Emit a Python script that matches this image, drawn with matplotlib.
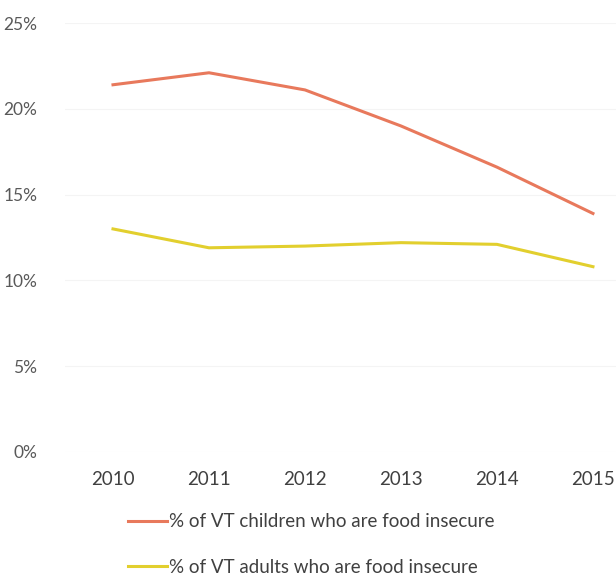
import matplotlib
matplotlib.use("Agg")
import matplotlib.pyplot as plt
from matplotlib.ticker import FuncFormatter

# data
years = ["2010", "2011", "2012", "2013", "2014", "2015"]
children = [0.214, 0.221, 0.211, 0.190, 0.166, 0.139]
adults = [0.130, 0.119, 0.120, 0.122, 0.121, 0.108]
labels = ["% of VT children who are food insecure",
          "% of VT adults who are food insecure"]

plt.rcParams['font.family'] = ['Lato', 'DejaVu Sans']

fig = plt.figure(figsize=(6.16, 5.75), dpi=100)
ax = fig.add_axes([65 / 616, 123 / 575, 551 / 616, 429 / 575])

x = range(len(years))
ax.plot(x, children, color="#E8795C", lw=2.2, label=labels[0])
ax.plot(x, adults, color="#E2CF2E", lw=2.2, label=labels[1])

ax.set_xlim(-0.5, 5.24)
ax.set_ylim(0, 0.25)
ax.set_yticks([0, 0.05, 0.10, 0.15, 0.20, 0.25])
ax.yaxis.set_major_formatter(FuncFormatter(lambda v, p: f"{v*100:.0f}%"))
ax.set_xticks(list(x))
ax.set_xticklabels(years)

ax.grid(axis="y", color="#f4f4f4", lw=0.8)
for s in ax.spines.values():
    s.set_visible(False)
ax.tick_params(length=0)
ax.tick_params(axis="y", pad=20, labelsize=12.5, labelcolor="#595959")
ax.tick_params(axis="x", pad=14, labelsize=13.5, labelcolor="#404040")

fig.legend(loc="center", bbox_to_anchor=(0.505, 0.053), frameon=False,
           fontsize=13.5, labelspacing=1.5, handlelength=2.1,
           handletextpad=0.1, labelcolor="#404040")

fig.savefig("out.png", dpi=100)
